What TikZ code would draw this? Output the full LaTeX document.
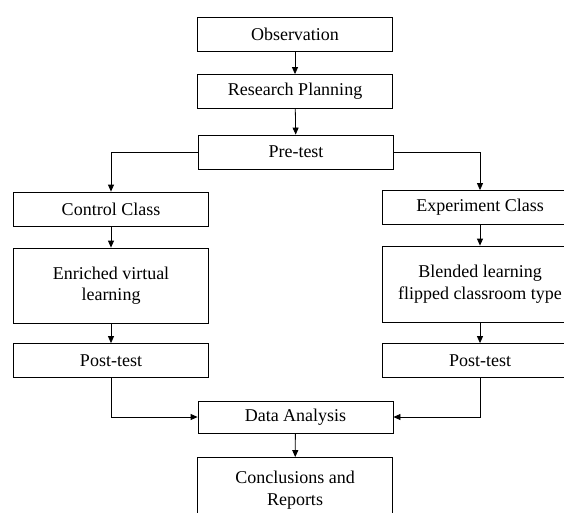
\documentclass[tikz,border=0pt]{standalone}
\usepackage{fontspec}
\setmainfont{Liberation Serif}
\usetikzlibrary{arrows.meta}

\begin{document}
\begin{tikzpicture}[x=1pt, y=-1pt, >={Triangle[length=7pt, width=6pt]}, line width=0.8pt]
	\clip (0,0) rectangle (564,512);
	\tikzstyle{every node} = [draw, rectangle, line width=0.8pt, minimum width=195pt, minimum height=34pt, align=center, inner sep=0pt, font=\fontsize{18}{21.5}\selectfont]
	\node (Observation) at (295.0, 34.0) {Observation};
	\node (Planning) at (295.0, 91.5) {Research Planning};
	\node (Pretest) at (296.0, 152.0) {Pre-test};
	\node (Control) at (111.0, 209.0) {Control Class};
	\node [minimum height=75pt] (Enriched) at (111.0, 285.5) {Enriched virtual\\learning};
	\node (PostControl) at (111.0, 360.5) {Post-test};
	\node [minimum width=196pt] (Experiment) at (480.0, 207.5) {Experiment Class};
	\node [minimum width=196pt, minimum height=76pt] (Blended) at (480.0, 284.0) {Blended learning\\flipped classroom type};
	\node [minimum width=196pt] (PostExperiment) at (480.0, 360.5) {Post-test};
	\node [minimum height=32pt] (Analysis) at (295.5, 417.0) {Data Analysis};
	\node [minimum height=65pt] (Conclusions) at (295.0, 490.0) {Conclusions and\\Reports};
	\draw [->] (Observation)--(Planning);
	\draw [->] (Planning)--(Pretest);
	\draw [->] (Pretest.west) -| (Control.north);
	\draw [->] (Pretest.east) -| (Experiment.north);
	\draw [->] (Control)--(Enriched);
	\draw [->] (Enriched)--(PostControl);
	\draw [->] (Experiment)--(Blended);
	\draw [->] (Blended)--(PostExperiment);
	\draw [->] (PostControl.south) |- (Analysis.west);
	\draw [->] (PostExperiment.south) |- (Analysis.east);
	\draw [->] (Analysis)--(Conclusions);
\end{tikzpicture}
\end{document}
